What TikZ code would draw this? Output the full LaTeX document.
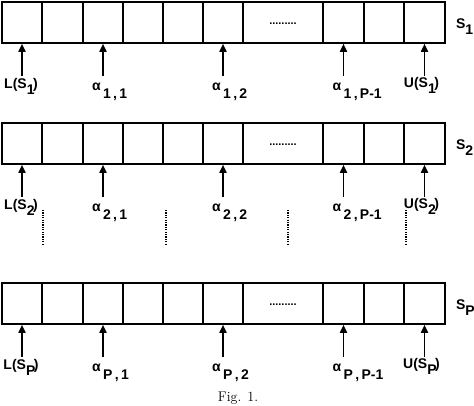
\documentclass[tikz,border=0pt]{standalone}
\usepackage{fontspec}
\newfontfamily\lblfont{Liberation Sans}
\usetikzlibrary{arrows.meta}
\begin{document}
\begin{tikzpicture}[x=1pt,y=-1pt,
  cell/.style={draw, line width=1.6pt, minimum height=41pt, inner sep=0pt},
  ptr/.style={line width=1.7pt, -{Triangle[length=8pt,width=7pt]}},
  lbl/.style={inner sep=0pt, font=\lblfont\bfseries\fontsize{14}{14}\selectfont},
  dotsfont/.style={inner sep=0pt, font=\lblfont\bfseries\fontsize{11}{11}\selectfont},
  vdots/.style={line width=2.6pt, dash pattern=on 1.2pt off 1.2pt}]
\useasboundingbox (0,0) rectangle (474,405);
\foreach \r/\y/\s in {1/2/1, 2/123/2, 3/283/P} {
  \foreach \k/\a/\b in {1/2/42, 2/42/83, 3/83/123, 4/123/163, 5/163/203, 6/203/243, 7/243/323, 8/323/364, 9/364/404, 10/404/445} {
    \node[cell, minimum width={\b-\a}] (c\r-\k) at ({(\a+\b)/2}, \y+20.5) {};
  }
  \node[dotsfont] (d\r) at ([yshift=-1pt]c\r-7.center) {.........};
  \foreach \k in {1,3,6,8,10} {
    \coordinate (t\r-\k) at ([yshift=-32pt]c\r-\k.south);
    \draw[ptr] (t\r-\k) -- (c\r-\k.south);
  }
  \node[lbl, anchor=base] (L\r) at ([xshift=-1pt,yshift=-13pt]t\r-1) {L(S\raisebox{-6pt}{\s}\kern-1.5pt)};
  \node[lbl, anchor=base west] (a\r-1) at ([xshift=-11pt,yshift=-15pt]t\r-3) {α\,\raisebox{-8pt}{\s\,,\,1}};
  \node[lbl, anchor=base west] (a\r-2) at ([xshift=-11pt,yshift=-15pt]t\r-6) {α\,\raisebox{-8pt}{\s\,,\,2}};
  \node[lbl, anchor=base west] (a\r-3) at ([xshift=-11pt,yshift=-15pt]t\r-8) {α\,\raisebox{-8pt}{\s\,,\,P-1}};
  \node[lbl, anchor=base] (U\r) at ([xshift=-3pt,yshift=-12pt]t\r-10) {U(S\raisebox{-6pt}{\s}\kern-1.5pt)};
  \node[lbl, anchor=base west] (S\r) at ([xshift=10pt,yshift=-5.5pt]c\r-10.east) {S\raisebox{-6pt}{\s}};
}
\draw[vdots] (43,210) -- (43,245);
\draw[vdots] (166,210) -- (166,245);
\draw[vdots] (288,210) -- (288,245);
\draw[vdots] (406,210) -- (406,245);
\node[anchor=base, inner sep=0pt, font=\fontsize{14}{14}\selectfont] (cap) at (238,401) {Fig. 1.};
\end{tikzpicture}
\end{document}
